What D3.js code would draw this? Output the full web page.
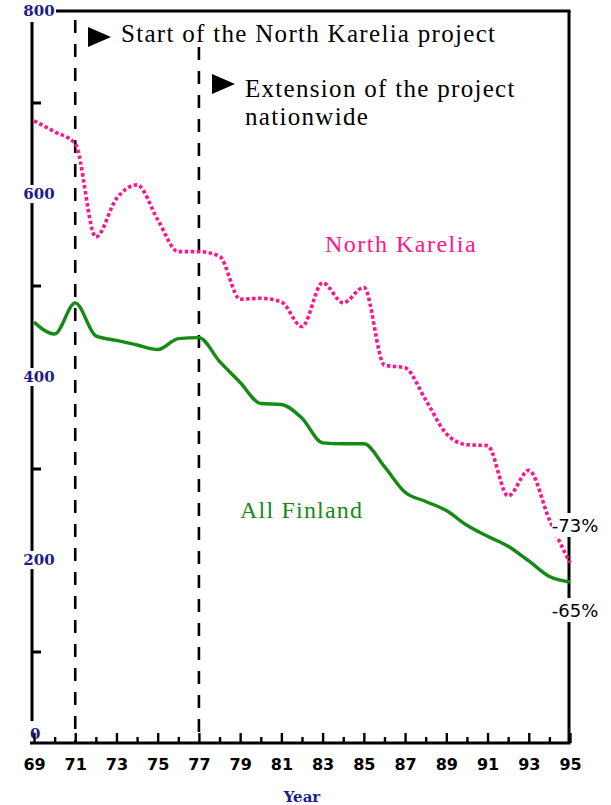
<!DOCTYPE html>
<html>
<head>
<meta charset="utf-8">
<script src="https://cdn.jsdelivr.net/npm/d3@7"></script>
<style>
  html, body { margin: 0; padding: 0; background: #fff; }
  svg { display: block; }
</style>
</head>
<body>
<div id="chart"></div>
<script>
// Years on the x axis (19xx).
const years = [69, 70, 71, 72, 73, 74, 75, 76, 77, 78, 79, 80, 81, 82, 83, 84, 85, 86, 87, 88, 89, 90, 91, 92, 93, 94, 95];
// Series values.
const northKarelia = [680, 668, 655, 553, 595, 610, 572, 537, 537, 532, 485, 486, 482, 455, 503, 481, 498, 413, 410, 375, 338, 326, 325, 270, 298, 244, 197];
const allFinland = [460, 447, 481, 445, 440, 435, 430, 442, 443, 417, 394, 371, 370, 355, 328, 327, 327, 302, 274, 264, 254, 238, 226, 215, 199, 182, 176];
// Tick labels.
const xTickLabels = [69, 71, 73, 75, 77, 79, 81, 83, 85, 87, 89, 91, 93, 95];
const xMinorTicks = [70, 72, 74, 76, 78, 80, 82, 84, 86, 88, 90, 92, 94];
const yTickLabels = [200, 400, 600, 800];
const yMinorTicks = [100, 300, 500, 700];
// Event markers.
const events = [
    {year: 71, lines: ['Start of the North Karelia project']},
    {year: 77, lines: ['Extension of the project', 'nationwide']}
];
const endLabels = ['-73%', '-65%'];

const W = 611, H = 805;
const pink = '#ff148c';
const green = '#158a15';
const navy = '#1c1c8c';

const svg = d3.select('#chart')
    .append('svg')
        .attr('width', W)
        .attr('height', H);

// Scales.
const x = d3.scaleLinear().domain([69, 95]).range([34, 570]);
const y = d3.scaleLinear().domain([0, 800]).range([743, 11]);
const plotLeft = 32, plotRight = 569, plotTop = y(800), plotBottom = y(0);

// Dashed event lines.
const eventTops = [20, 47];
events.forEach((ev, i) => {
    svg.append('line')
        .attr('x1', x(ev.year)).attr('x2', x(ev.year))
        .attr('y1', eventTops[i]).attr('y2', plotBottom)
        .attr('stroke', '#000')
        .attr('stroke-width', 2.6)
        .attr('stroke-dasharray', '13,11');
});

// Frame: top and right border.
svg.append('line')
    .attr('x1', 56).attr('x2', plotRight + 1.5)
    .attr('y1', plotTop).attr('y2', plotTop)
    .attr('stroke', '#000').attr('stroke-width', 3);
svg.append('line')
    .attr('x1', plotRight).attr('x2', plotRight)
    .attr('y1', plotTop).attr('y2', plotBottom)
    .attr('stroke', '#000').attr('stroke-width', 3);

// Y axis line.
svg.append('line')
    .attr('x1', plotLeft).attr('x2', plotLeft)
    .attr('y1', 22).attr('y2', 721)
    .attr('stroke', '#000').attr('stroke-width', 3);

// Y minor ticks (pointing inwards).
svg.append('g')
    .attr('transform', `translate(${plotLeft},0)`)
    .call(d3.axisRight(y).tickValues(yMinorTicks).tickSize(9).tickFormat(''))
    .call(g => g.select('.domain').remove())
    .call(g => g.selectAll('line').attr('stroke', '#000').attr('stroke-width', 3));

// Y labels sit over the axis line on a white patch.
const yLab = svg.append('g')
    .style('font-family', '"DejaVu Serif", serif')
    .style('font-weight', 'bold')
    .style('font-size', '15px')
    .attr('fill', navy);
yTickLabels.forEach(v => {
    yLab.append('rect')
        .attr('x', 22).attr('y', y(v) - 9)
        .attr('width', 34).attr('height', 18)
        .attr('fill', '#fff');
    yLab.append('text')
        .attr('x', 39).attr('y', y(v))
        .attr('dy', '0.36em')
        .attr('text-anchor', 'middle')
        .text(v);
});
yLab.append('text')
    .attr('x', 30).attr('y', 739)
    .text(0);

// X axis: major and minor ticks point up.
const xAxis = svg.append('g')
    .attr('transform', `translate(0,${plotBottom})`)
    .call(d3.axisBottom(x).tickValues(xTickLabels).tickSize(-10).tickSizeOuter(0))
    .call(g => g.select('.domain').remove())
    .call(g => g.selectAll('line').attr('stroke', '#000').attr('stroke-width', 2.4));
xAxis.selectAll('text')
    .attr('y', 27)
    .attr('dy', 0)
    .attr('fill', '#000')
    .style('font-family', '"DejaVu Sans", sans-serif')
    .style('font-weight', 'bold')
    .style('font-size', '16px');
svg.append('g')
    .attr('transform', `translate(0,${plotBottom})`)
    .call(d3.axisBottom(x).tickValues(xMinorTicks).tickSize(-6).tickSizeOuter(0).tickFormat(''))
    .call(g => g.select('.domain').remove())
    .call(g => g.selectAll('line').attr('stroke', '#000').attr('stroke-width', 2.4));
svg.append('line')
    .attr('x1', 30).attr('x2', plotRight + 1.5)
    .attr('y1', plotBottom).attr('y2', plotBottom)
    .attr('stroke', '#000').attr('stroke-width', 3.2);

// X axis title.
svg.append('text')
    .attr('x', 302).attr('y', 802)
    .attr('text-anchor', 'middle')
    .attr('fill', navy)
    .style('font-family', '"DejaVu Serif", serif')
    .style('font-weight', 'bold')
    .style('font-size', '15px')
    .text('Year');

// Lines.
const line = d3.line()
    .x((d, i) => x(years[i]))
    .y(d => y(d))
    .curve(d3.curveMonotoneX);

svg.append('path')
    .datum(allFinland)
    .attr('fill', 'none')
    .attr('stroke', green)
    .attr('stroke-width', 3.4)
    .attr('stroke-linejoin', 'round')
    .attr('d', line);

svg.append('path')
    .datum(northKarelia)
    .attr('fill', 'none')
    .attr('stroke', pink)
    .attr('stroke-width', 3.6)
    .attr('stroke-dasharray', '3.5,2.5')
    .attr('d', line);

// Event annotations with arrowheads.
const annot = [
    {tx: 88, ty: 37, textX: 121, textY: 42},
    {tx: 212, ty: 84, textX: 245, textY: 97}
];
events.forEach((ev, i) => {
    const a = annot[i];
    svg.append('path')
        .attr('d', `M${a.tx},${a.ty - 10}L${a.tx + 23},${a.ty}L${a.tx},${a.ty + 10}Z`)
        .attr('fill', '#000');
    const t = svg.append('text')
        .attr('x', a.textX).attr('y', a.textY)
        .attr('fill', '#000')
        .style('font-family', '"Liberation Serif", serif')
        .style('font-size', '25px')
        .style('letter-spacing', '1.3px');
    ev.lines.forEach((l, j) => {
        t.append('tspan')
            .attr('x', a.textX)
            .attr('dy', j === 0 ? 0 : 28)
            .text(l);
    });
});

// Series labels.
svg.append('text')
    .attr('x', 325).attr('y', 252)
    .attr('fill', pink)
    .style('font-family', '"Liberation Serif", serif')
    .style('font-size', '24px')
    .style('letter-spacing', '1.5px')
    .text('North Karelia');
svg.append('text')
    .attr('x', 240).attr('y', 518)
    .attr('fill', green)
    .style('font-family', '"Liberation Serif", serif')
    .style('font-size', '24px')
    .style('letter-spacing', '1.2px')
    .text('All Finland');

// Percentage change labels at the right border.
const endY = [532, 617];
endLabels.forEach((l, i) => {
    svg.append('rect')
        .attr('x', 552).attr('y', endY[i] - 19)
        .attr('width', 47).attr('height', 24)
        .attr('fill', '#fff');
    svg.append('text')
        .attr('x', 575).attr('y', endY[i])
        .attr('text-anchor', 'middle')
        .attr('fill', '#000')
        .style('font-family', '"DejaVu Sans", sans-serif')
        .style('font-size', '18px')
        .text(l);
});
</script>
</body>
</html>
